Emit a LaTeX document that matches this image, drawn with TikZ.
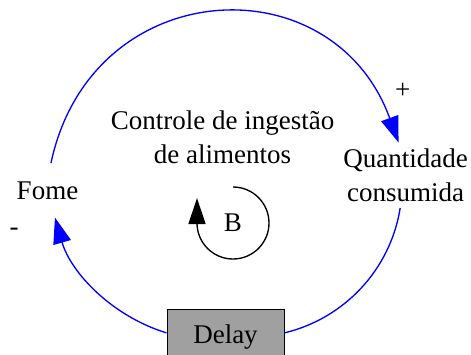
\documentclass[tikz,border=0pt]{standalone}
\usepackage{fontspec}
\setmainfont{Liberation Serif}
\usetikzlibrary{arrows.meta}
\definecolor{delaygray}{RGB}{160,160,160}

\begin{document}
\begin{tikzpicture}[x=0.75pt,y=0.75pt,
  every node/.style={font=\fontsize{20.25pt}{25.5pt}\selectfont},
  link/.style={draw=blue,line width=1pt},
  linkarrow/.style={link,-{Triangle[length=19.5pt,width=13.5pt]}},
  loopline/.style={draw=black,line width=1pt,-{Triangle[length=19.5pt,width=12.75pt]}},
  delaybox/.style={draw=black,fill=delaygray,line width=0.75pt,
    minimum width=87.75pt,minimum height=42pt,inner sep=0pt}]

\useasboundingbox (0,0) rectangle (471,354);
\clip (0,0) rectangle (471,354);

% Variaveis
\node[anchor=base,inner ysep=13.5pt] (fome)
at (47.5,155)
{Fome};

\node[align=center,inner ysep=4.5pt] (qtd)
at (405.5,178.7)
{Quantidade\\consumida};

\node[align=center] (controle)
at (222.5,216.5)
{Controle de ingestão\\de alimentos};

% Atraso
\node[delaybox] (delay)
at (225.5,17)
{Delay};

% Polaridades
\node (mais)
at (402.7,263.3)
{+};

\node (menos)
at (14,122.3)
{-};

% Conectores
\draw[linkarrow]
([xshift=2.6pt]fome.north)
to[out=78,in=110,looseness=1.42]
([xshift=-5.2pt]qtd.north);

\draw[link]
([xshift=-4pt]qtd.south)
to[out=-99,in=13.5,looseness=0.93]
(delay.4);

\draw[linkarrow]
(delay.176)
to[out=163,in=-74,looseness=0.91]
([xshift=5.6pt]fome.south);

% Laco de balanco
\node (b)
at (233,131)
{B};

\draw[loopline]
([yshift=27pt]b.center)
arc[start angle=90,end angle=-180,radius=27pt]
--
++(0,25);

\end{tikzpicture}
\end{document}
